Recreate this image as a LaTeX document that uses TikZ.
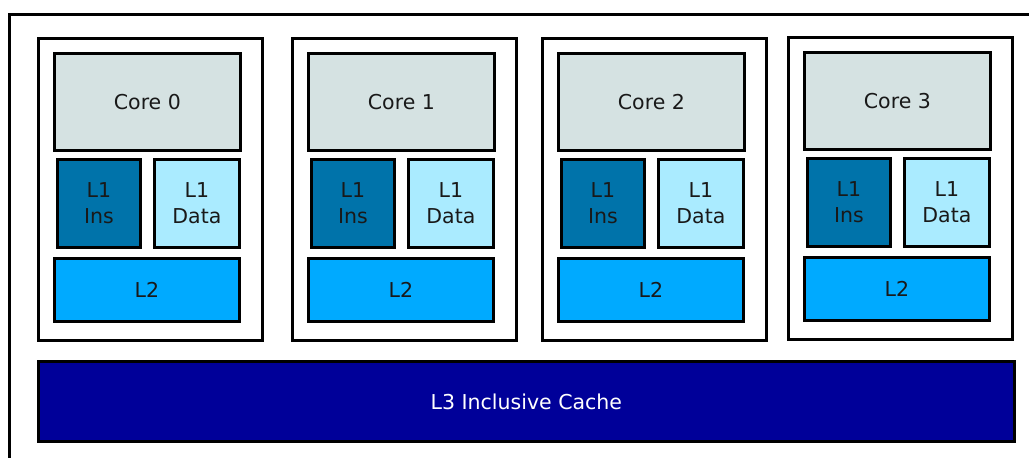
\documentclass[tikz,border=0pt]{standalone}
\usepackage{fontspec}
\setmainfont{DejaVu Sans}
\definecolor{corefill}{RGB}{213,226,226}
\definecolor{insfill}{RGB}{0,115,170}
\definecolor{datafill}{RGB}{170,235,255}
\definecolor{ltwofill}{RGB}{0,170,255}
\definecolor{lthreefill}{RGB}{0,0,153}
\definecolor{txt}{RGB}{25,25,25}
\tikzset{
  blk/.style={draw=black, line width=2.8pt, inner sep=0pt, anchor=north west, text=txt,
    font=\fontsize{20.5}{26}\selectfont, align=center},
}
\begin{document}
\begin{tikzpicture}[x=1pt,y=-1pt]
\useasboundingbox (0,0) rectangle (1029,458);
\fill[white] (0,0) rectangle (1029,458);
\coordinate (fa) at (9,470);
\coordinate (fb) at (9,14);
\coordinate (fc) at (1040,14);
\draw[line width=3pt] (fa) -- (fb) -- (fc);
\foreach \X/\Y/\i in {37/37/0, 291/37/1, 541/37/2, 787/36/3}{
  \node[blk, fill=white, minimum width=224pt, minimum height=302pt] (box\i) at (\X,\Y) {};
  \node[blk, fill=corefill, minimum width=186pt, minimum height=97pt] (core\i) at (\X+16,\Y+15) {Core \i};
  \node[blk, fill=insfill, minimum width=83pt, minimum height=88pt] (ins\i) at (\X+19,\Y+121) {L1\\Ins};
  \node[blk, fill=datafill, minimum width=85pt, minimum height=88pt] (data\i) at (\X+116,\Y+121) {L1\\Data};
  \node[blk, fill=ltwofill, minimum width=185pt, minimum height=63pt] (ltwo\i) at (\X+16,\Y+220) {L2};
}
\node[blk, fill=lthreefill, text=white, minimum width=976pt, minimum height=80pt] (lthree) at (37,360) {L3 Inclusive Cache};
\end{tikzpicture}
\end{document}
